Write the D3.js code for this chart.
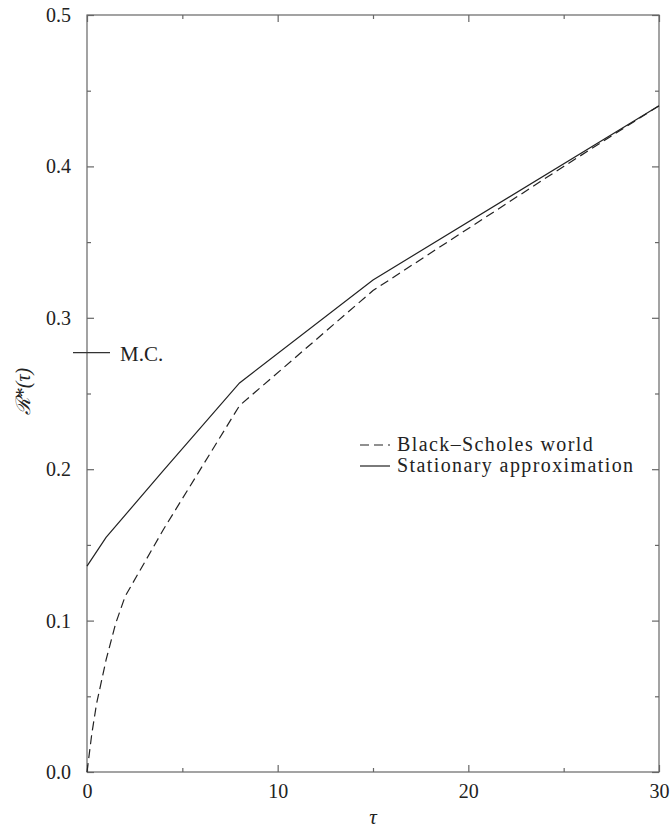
<!DOCTYPE html>
<html><head><meta charset="utf-8">
<script src="https://cdn.jsdelivr.net/npm/d3@7"></script>
<style>body{margin:0;background:#fff}svg{display:block}
svg text{font-family:"Liberation Serif","Tinos","Times New Roman","DejaVu Serif",serif !important;fill:#222}</style>
</head><body>
<svg id="c" width="672" height="829"></svg>
<script>
// data
const bsTau   = [0, 0.25, 0.5, 1, 1.5, 2, 4, 8, 15, 20, 25, 30];
const bsVal   = [0, 0.025, 0.045, 0.074, 0.098, 0.116, 0.16, 0.242, 0.318, 0.359, 0.400, 0.44];
const stTau   = [0, 1, 4, 8, 15, 30];
const stVal   = [0.136, 0.155, 0.199, 0.257, 0.325, 0.44];
const mcValue = 0.277;
const xTicks  = [0, 10, 20, 30];
const yTicks  = [0.0, 0.1, 0.2, 0.3, 0.4, 0.5];
const xMinor  = [5, 15, 25];
const yMinor  = [0.05, 0.15, 0.25, 0.35, 0.45];
const legendLabels = ["Black\u2013Scholes world", "Stationary approximation"];

const svg = d3.select("#c");
const L = 87, R = 659, T = 15, B = 772;
const x = d3.scaleLinear().domain([0, 30]).range([L, R]);
const y = d3.scaleLinear().domain([0, 0.5]).range([B, T]);
const frameCol = "#666";
const serif = '"Liberation Serif","Tinos","Times New Roman","DejaVu Serif",serif';

const g = svg.append("g");
// frame
g.append("rect").attr("x", L).attr("y", T).attr("width", R - L).attr("height", B - T)
  .attr("fill", "none").attr("stroke", frameCol).attr("stroke-width", 1.2);

// axes with inward ticks
const fmtY = d3.format(".1f");
function addAxis(axis, tr) {
  const a = g.append("g").attr("transform", tr).call(axis);
  a.attr("font-family", serif);
  a.select(".domain").remove();
  a.selectAll("line").attr("stroke", frameCol).attr("stroke-width", 1.2);
  return a;
}
const bx = addAxis(d3.axisBottom(x).tickValues(xTicks).tickSize(-7).tickPadding(12), `translate(0,${B})`);
bx.selectAll("text").attr("font-size", 20).attr("fill", "#222");
const ly = addAxis(d3.axisLeft(y).tickValues(yTicks).tickSize(-7).tickPadding(16).tickFormat(fmtY), `translate(${L},0)`);
ly.selectAll("text").attr("font-size", 20).attr("fill", "#222");
addAxis(d3.axisTop(x).tickValues(xTicks).tickSize(-7).tickFormat(""), `translate(0,${T})`);
addAxis(d3.axisRight(y).tickValues(yTicks).tickSize(-7).tickFormat(""), `translate(${R},0)`);
addAxis(d3.axisBottom(x).tickValues(xMinor).tickSize(-4).tickFormat(""), `translate(0,${B})`);
addAxis(d3.axisTop(x).tickValues(xMinor).tickSize(-4).tickFormat(""), `translate(0,${T})`);
addAxis(d3.axisLeft(y).tickValues(yMinor).tickSize(-4).tickFormat(""), `translate(${L},0)`);
addAxis(d3.axisRight(y).tickValues(yMinor).tickSize(-4).tickFormat(""), `translate(${R},0)`);

// lines
const line = d3.line().x(d => x(d[0])).y(d => y(d[1]));
const bsData = bsTau.map((t, i) => [t, bsVal[i]]);
const stData = stTau.map((t, i) => [t, stVal[i]]);
g.append("path").attr("d", line(bsData)).attr("fill", "none").attr("stroke", "#222")
  .attr("stroke-width", 1.2).attr("stroke-dasharray", "9,5");
g.append("path").attr("d", line(stData)).attr("fill", "none").attr("stroke", "#222")
  .attr("stroke-width", 1.2);

// M.C. marker
g.append("line").attr("x1", L - 14).attr("x2", L + 23).attr("y1", y(mcValue)).attr("y2", y(mcValue))
  .attr("stroke", "#333").attr("stroke-width", 1.2);
g.append("text").attr("x", L + 33).attr("y", y(mcValue) + 8).attr("font-size", 21)
  .attr("font-family", serif).text("M.C.");

// legend
const legY = [451, 472];
legendLabels.forEach((lab, i) => {
  g.append("line").attr("x1", 360).attr("x2", 390).attr("y1", legY[i] - 6).attr("y2", legY[i] - 6)
    .attr("stroke", "#222").attr("stroke-width", 1.2)
    .attr("stroke-dasharray", i === 0 ? "9,5" : null);
  g.append("text").attr("x", 397).attr("y", legY[i]).attr("font-size", 20)
    .attr("font-family", serif).attr("letter-spacing", 1.4).text(lab);
});

// axis titles
g.append("text").attr("x", (L + R) / 2).attr("y", 824).attr("text-anchor", "middle")
  .attr("font-size", 21).attr("font-style", "italic").attr("font-family", serif).text("\u03c4");
g.append("text").attr("transform", `translate(30,${(T + B) / 2 - 2}) rotate(-90)`)
  .attr("text-anchor", "middle").attr("font-size", 20).attr("font-style", "italic")
  .attr("font-family", serif).text("\u211b*(\u03c4)");
</script>
</body></html>
